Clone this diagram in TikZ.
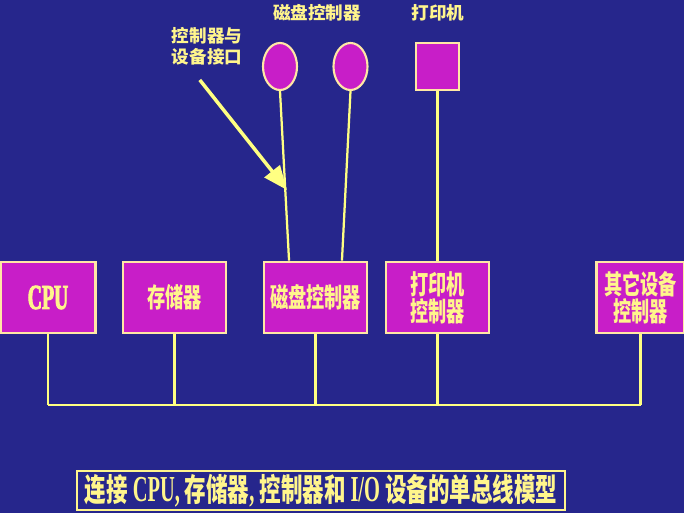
\documentclass[tikz,border=0pt]{standalone}
\usepackage{fontspec}
\newfontfamily\cjk{Noto Sans CJK SC}
\newfontfamily\cjkn[FakeStretch=0.68]{Noto Sans CJK SC}
\newfontfamily\latn[FakeStretch=0.56]{Liberation Serif}
\newfontfamily\latb[FakeStretch=0.56,FakeBold=2.5,UprightFont=* Bold]{Liberation Serif}
\usetikzlibrary{shapes.geometric,arrows.meta,calc}
\definecolor{bgblue}{RGB}{38,38,140}
\definecolor{mag}{RGB}{200,30,200}
\definecolor{rim}{RGB}{255,232,165}
\definecolor{ink}{RGB}{255,245,140}
\definecolor{wirecol}{RGB}{255,255,130}
\begin{document}
\begin{tikzpicture}[x=0.025cm,y=-0.025cm]
            \tikzset{
                unit/.style={draw=rim, line width=2pt, fill=mag, text=ink, minimum height=1.775cm, align=center, font=\cjkn\bfseries\fontsize{19}{16.5}\selectfont},
                drive/.style={draw=rim, line width=1.5pt, fill=mag, ellipse, minimum width=0.85cm, minimum height=1.175cm, inner sep=0pt},
                wire/.style={draw=wirecol, line width=1.6pt},
                tag/.style={text=ink, align=center, font=\cjk\bfseries\fontsize{12.5}{15}\selectfont},
                caption/.style={draw=ink, line width=1.5pt, text=ink, minimum width=12.2cm, minimum height=0.975cm, inner sep=0pt, font=\cjkn\bfseries\fontsize{22.5}{22.5}\selectfont}
            }
            \fill[bgblue] (0,0) rectangle (684,513);
            \useasboundingbox (0,0) rectangle (684,513);

            \draw node[unit, minimum width=2.375cm] (cpu) at (48,297.5) {{\latb\fontsize{25}{25}\selectfont CPU}};
            \draw node[unit, minimum width=2.575cm] (mem) at (174.5,297.5) {存储器};
            \draw node[unit, minimum width=2.575cm] (disk) at (315.5,297.5) {磁盘控制器};
            \draw node[unit, minimum width=2.575cm] (prn) at (437.5,297.5) {打印机\\控制器};
            \draw node[unit, minimum width=2.2cm] (other) at (640.5,297.5) {其它设备\\控制器};

            \draw node[drive] (d1) at (280,66.5) {};
            \draw node[drive] (d2) at (350.5,66.5) {};
            \draw node[unit, minimum width=1.075cm, minimum height=1.175cm, line width=1.5pt] (ptr) at (437.5,66.5) {};

            \node[tag] (tdisk) at (317,13) {磁盘控制器};
            \node[tag] (tptr) at (438,13) {打印机};
            \node[tag] (tifc) at (207,46) {控制器与\\设备接口};

            \draw[wire] (d1.south) -- ($(disk.north west)!0.25!(disk.north east)$);
            \draw[wire] (d2.south) -- ($(disk.north west)!0.75!(disk.north east)$);
            \draw[wire] (ptr.south) -- (prn.north);

            \coordinate (bus) at (0,405);
            \foreach \u in {cpu,mem,disk,prn,other}{
            \draw[wire] (\u.south) -- (\u.south |- bus);
            }
            \draw[wire] (cpu.south |- bus) -- (other.south |- bus);

            \coordinate (tip) at (287,190);
            \draw[wire, line width=2.5pt, -{Triangle[length=0.6cm,width=0.48cm]}] ([xshift=-0.18cm,yshift=-0.25cm]tifc.south) -- (tip);

            \draw node[caption] (cap) at (321,490.5) {连接 {\latn\fontsize{26}{26}\selectfont CPU,} 存储器{\latn\fontsize{26}{26}\selectfont ,} 控制器和 {\latn\fontsize{26}{26}\selectfont I/O} 设备的单总线模型};
        \end{tikzpicture}
\end{document}
